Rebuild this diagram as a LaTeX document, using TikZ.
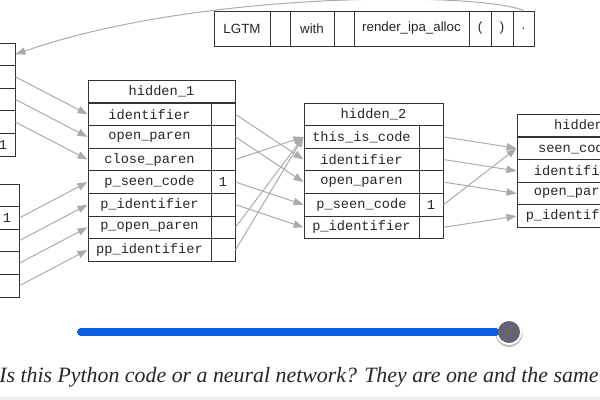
\documentclass[tikz,border=0pt]{standalone}
\usepackage{fontspec}
\usepackage{tikz}
\usetikzlibrary{arrows.meta}
\newfontfamily\codefont{Liberation Mono}
\newfontfamily\uifont{Liberation Sans}
\newfontfamily\capfont{Liberation Serif}
\definecolor{cellline}{HTML}{333333}
\definecolor{linkgray}{HTML}{ABABAB}
\definecolor{sliderblue}{HTML}{0B60E4}
\definecolor{knobgray}{HTML}{636372}

\tikzset{
  cell/.style={draw=cellline, line width=0.75pt, inner sep=0pt, minimum height=16.95pt, text=black!85, font=\codefont\fontsize{10.25}{12}\selectfont},
  tok/.style={cell, minimum height=26.25pt, font=\uifont\fontsize{10}{12}\selectfont},
  link/.style={draw=linkgray, line width=0.75pt, -{Triangle[length=7.5pt,width=5.5pt]}},
}

\begin{document}
\begin{tikzpicture}[x=0.75pt,y=0.75pt,yscale=-1,xscale=1]
\useasboundingbox (0,0) rectangle (600,400);
\clip (0,0) rectangle (600,400);

% Token strip
\foreach \cx/\w/\t [count=\i] in {242/42/LGTM, 280/15/{}, 312/33/with, 344/15/{}, 411.5/86.25/render\_ipa\_alloc, 480/16.5/(, 502/16.5/), 523.5/15.75/.}
  \node[tok, minimum width=\w pt] (tk\i) at (\cx,28.5) {\t};

% Input tables (cut at the left edge)
\foreach \v [count=\i] in {{}, {}, {}, {}, 1}
  \node[cell, minimum width=18pt] (ia\i) at (3,{43+22.6*(\i-0.5)}) {\v};
\foreach \v [count=\i] in {{}, 1, {}, {}, {}}
  \node[cell, minimum width=18pt] (ib\i) at (7,{184+22.6*(\i-0.5)}) {\v};

% hidden_1
\node[cell, minimum width=110.25pt] (ha0) at (161.5,91.3) {hidden\_1};
\foreach \l/\v [count=\i] in {identifier/{}, open\_paren/{}, close\_paren/{}, p\_seen\_code/1, p\_identifier/{}, p\_open\_paren/{}, pp\_identifier/{}} {
  \node[cell, minimum width=92.25pt] (hal\i) at (149.5,{103+22.6*(\i-0.5)}) {\l};
  \node[cell, minimum width=18pt] (hav\i) at (223,{103+22.6*(\i-0.5)}) {\v};
}

% hidden_2
\node[cell, minimum width=104.25pt] (hb0) at (373.5,114.3) {hidden\_2};
\foreach \l/\v [count=\i] in {this\_is\_code/{}, identifier/{}, open\_paren/{}, p\_seen\_code/1, p\_identifier/{}} {
  \node[cell, minimum width=86.25pt] (hbl\i) at (361.5,{125.6+22.6*(\i-0.5)}) {\l};
  \node[cell, minimum width=18pt] (hbv\i) at (431,{125.6+22.6*(\i-0.5)}) {\v};
}

% hidden_3 (cut at the right edge)
\node[cell, minimum width=105pt] (hc0) at (587,125.5) {hidden\_3};
\foreach \l [count=\i] in {seen\_code, identifier, open\_paren, p\_identifier} {
  \node[cell, minimum width=87pt] (hcl\i) at (575,{137+22.6*(\i-0.5)}) {\l};
  \node[cell, minimum width=18pt] (hcv\i) at (645,{137+22.6*(\i-0.5)}) {};
}

% Links
\draw[link] (tk8.north) .. controls (480,-8) and (200,-10) .. (ia1.east);
\foreach \s/\t in {2/1, 3/2, 4/3} \draw[link] (ia\s.east) -- (hal\t.west);
\foreach \s/\t in {2/4, 3/5, 4/6, 5/7} \draw[link] (ib\s.east) -- (hal\t.west);
\foreach \s/\t in {1/2, 2/3, 3/1, 4/4, 5/5, 6/1, 7/1} \draw[link] (hav\s.east) -- (hbl\t.west);
\foreach \s/\t in {1/1, 2/2, 3/3, 4/1, 5/4} \draw[link] (hbv\s.east) -- (hcl\t.west);

% Slider
\coordinate (barstart) at (81,332);
\fill[black!25] (509,333.5) circle (13.5);
\node[circle, fill=white, minimum size=19.5pt, inner sep=0pt] (knobring) at (509,332) {};
\draw[sliderblue, line width=6pt, line cap=round] (barstart) -- (knobring.west);
\node[circle, fill=knobgray, minimum size=16.5pt, inner sep=0pt] (knob) at (509,332) {};

% Caption
\node[anchor=base west, inner sep=0pt, text=black!85, font=\capfont\itshape\fontsize{16.4}{20}\selectfont] (caption) at (-1,382) {Is this Python code or a neural network? They are one and the same};
\fill[black!7] (0,396.5) rectangle (600,400);
\end{tikzpicture}
\end{document}
